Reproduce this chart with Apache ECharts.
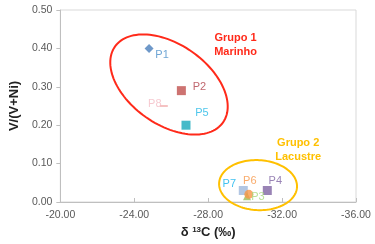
<!DOCTYPE html>
<html><head><meta charset="utf-8">
<script src="https://cdn.jsdelivr.net/npm/echarts@6/dist/echarts.min.js"></script>
<style>html,body{margin:0;padding:0;background:#fff}#c{width:375px;height:244px}</style>
</head><body><div id="c"></div>
<script>
// Data
const names   = ['P1', 'P2', 'P8', 'P5', 'P7', 'P3', 'P6', 'P4'];
const delta13C = [-24.8, -26.55, -25.6, -26.8, -29.9, -30.1, -30.2, -31.2];
const vRatio  = [0.40, 0.29, 0.25, 0.20, 0.03, 0.015, 0.02, 0.03];
const xTicks = [-20, -24, -28, -32, -36];
const yTicks = [0, 0.1, 0.2, 0.3, 0.4, 0.5];

// Styles (by name)
const styles = {
  P1: {symbol: 'diamond', size: 9, color: '#4a7ebb', label: '#4a8fc9', offset: [13, 7]},
  P2: {symbol: 'rect', size: 9, color: '#c0504d', label: '#b0404a', offset: [18, -4]},
  P8: {symbol: 'rect', size: [8, 2], color: '#f2b3b3', label: '#f4bcc4', offset: [-9, -2]},
  P5: {symbol: 'rect', size: 9, color: '#17a9bb', label: '#22b8e6', offset: [16, -12]},
  P7: {symbol: 'rect', size: 9, color: '#9db8dc', label: '#12b3ee', offset: [-14, -7]},
  P3: {symbol: 'triangle', size: 8, color: '#9bbb59', label: '#a6d87a', offset: [11, 1]},
  P6: {symbol: 'circle', size: 9, color: '#f79646', label: '#f79646', offset: [1, -13]},
  P4: {symbol: 'rect', size: 9, color: '#8064a2', label: '#8064a2', offset: [8, -10]}
};

const font = '"Liberation Sans", Arial, sans-serif';
const chart = echarts.init(document.getElementById('c'), null, {renderer: 'canvas'});

const data = names.map((n, i) => {
  const s = styles[n];
  return {
    name: n,
    value: [delta13C[i], vRatio[i]],
    symbol: s.symbol,
    symbolSize: s.size,
    itemStyle: {color: s.color},
    label: {show: true, formatter: n, position: 'inside', offset: s.offset, color: s.label, fontSize: 11, fontFamily: font}
  };
});

chart.setOption({
  animation: false,
  grid: {left: 55, right: 19, top: 10, bottom: 41, show: true, borderColor: '#d9d9d9', borderWidth: 1},
  xAxis: {
    type: 'value', min: -36, max: -20, interval: 4, inverse: true,
    name: 'δ {sup|13}C (‰)', nameLocation: 'middle', nameGap: 24,
    nameTextStyle: {fontSize: 13, fontWeight: 'bold', color: '#222', fontFamily: font,
      rich: {sup: {fontSize: 8, fontWeight: 'bold', verticalAlign: 'top', color: '#222', padding: [0, 0, 5, 0]}}},
    axisLine: {lineStyle: {color: '#bfbfbf'}},
    axisTick: {inside: true, length: 4, lineStyle: {color: '#bfbfbf'}},
    axisLabel: {color: '#595959', fontSize: 10.5, fontFamily: font, margin: 8, formatter: v => v.toFixed(2)},
    splitLine: {show: false}
  },
  yAxis: {
    type: 'value', min: 0, max: 0.5, interval: 0.1,
    name: 'V/(V+Ni)', nameLocation: 'middle', nameGap: 38,
    nameTextStyle: {fontSize: 13, fontWeight: 'bold', color: '#222', fontFamily: font},
    axisLine: {show: true, lineStyle: {color: '#bfbfbf'}},
    axisTick: {show: true, length: 4, lineStyle: {color: '#bfbfbf'}},
    axisLabel: {color: '#595959', fontSize: 10.5, fontFamily: font, margin: 8, formatter: v => v.toFixed(2)},
    splitLine: {show: false}
  },
  series: [{type: 'scatter', data: data, z: 3}]
});

// Annotations: ellipses (center in data units, axes in px) and group labels
function ellipsePoints(cx, cy, a, b, deg) {
  const c = chart.convertToPixel({gridIndex: 0}, [cx, cy]);
  const th = deg * Math.PI / 180, pts = [];
  for (let k = 0; k < 120; k++) {
    const t = 2 * Math.PI * k / 120;
    pts.push([c[0] + a * Math.cos(t) * Math.cos(th) - b * Math.sin(t) * Math.sin(th),
              c[1] + a * Math.cos(t) * Math.sin(th) + b * Math.sin(t) * Math.cos(th)]);
  }
  return pts;
}
function textAt(x, y, txt, color) {
  const p = chart.convertToPixel({gridIndex: 0}, [x, y]);
  return {type: 'text', x: p[0], y: p[1], z: 10,
    style: {text: txt, fill: color, font: 'bold 11px ' + font, textAlign: 'center', textVerticalAlign: 'middle', lineHeight: 14}};
}
chart.setOption({
  graphic: [
    {type: 'polygon', shape: {points: ellipsePoints(-25.88, 0.306, 66, 40, 35)}, style: {fill: 'none', stroke: '#ff2a1a', lineWidth: 2}, z: 5},
    {type: 'polygon', shape: {points: ellipsePoints(-30.7, 0.044, 39, 25, 3)}, style: {fill: 'none', stroke: '#ffc000', lineWidth: 2}, z: 5},
    textAt(-29.48, 0.41, 'Grupo 1\nMarinho', '#ff2a1a'),
    textAt(-32.87, 0.136, 'Grupo 2\nLacustre', '#ffc000')
  ]
});
</script></body></html>
